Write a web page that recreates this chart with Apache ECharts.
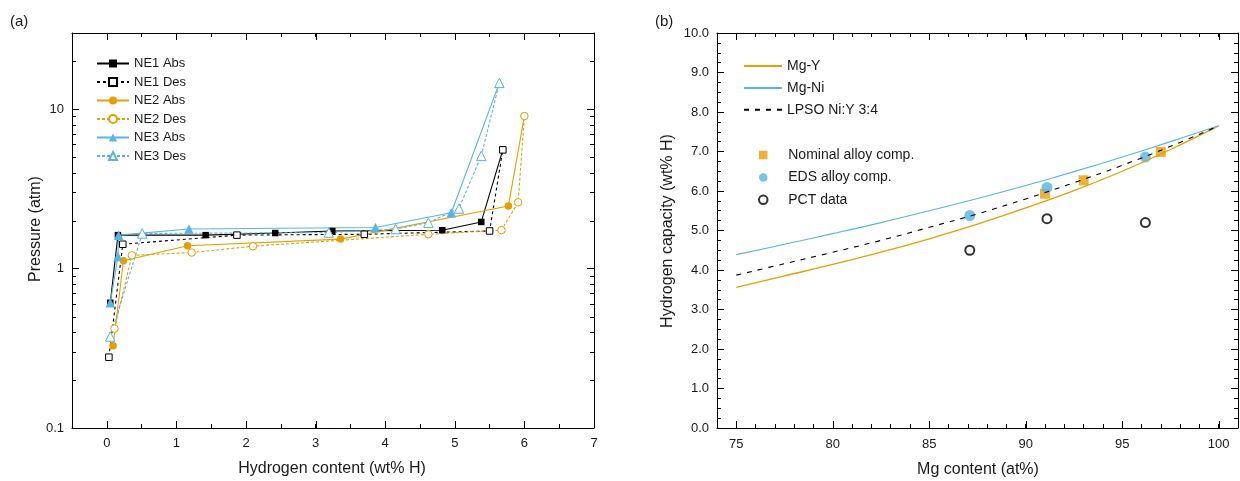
<!DOCTYPE html>
<html>
<head>
<meta charset="utf-8">
<script src="https://cdn.jsdelivr.net/npm/echarts@6/dist/echarts.min.js"></script>
<style>
  html, body { margin: 0; padding: 0; background: #fff; }
  #chart { width: 1240px; height: 481px; }
</style>
</head>
<body>
<div id="chart"></div>
<script>
// ---------- Panel (a): PCT isotherms, hydrogen content (wt% H) vs pressure (atm) ----------
const ne1AbsH = [0.05, 0.16, 1.42, 2.42, 3.24, 4.82, 5.38, 5.69];
const ne1AbsP = [0.61, 1.62, 1.62, 1.67, 1.72, 1.74, 1.96, 5.55];
const ne1DesH = [0.03, 0.23, 1.87, 3.70, 5.50, 5.69];
const ne1DesP = [0.278, 1.42, 1.62, 1.64, 1.72, 5.55];
const ne2AbsH = [0.09, 0.24, 1.16, 3.36, 5.77, 6.00];
const ne2AbsP = [0.328, 1.12, 1.39, 1.53, 2.47, 9.04];
const ne2DesH = [0.11, 0.36, 1.22, 2.10, 4.62, 5.67, 5.91, 6.00];
const ne2DesP = [0.42, 1.21, 1.26, 1.38, 1.64, 1.74, 2.60, 9.04];
const ne3AbsH = [0.05, 0.16, 0.17, 1.18, 3.86, 4.95, 5.64];
const ne3AbsP = [0.61, 1.19, 1.62, 1.77, 1.81, 2.24, 14.6];
const ne3DesH = [0.05, 0.51, 3.19, 4.15, 4.62, 5.06, 5.38, 5.64];
const ne3DesP = [0.375, 1.66, 1.68, 1.77, 1.94, 2.38, 5.09, 14.6];

// axis ticks of panel (a)
const hydrogenMajorTicks = [0, 1, 2, 3, 4, 5, 6, 7];
const pressureMinorTicks = [0.2, 0.3, 0.4, 0.5, 0.6, 0.7, 0.8, 0.9,
                            2, 3, 4, 5, 6, 7, 8, 9, 20];

// ---------- Panel (b): hydrogen capacity vs Mg content ----------
const mgContent = [75, 77.5, 80, 82.5, 85, 87.5, 90, 92.5, 95, 97.5, 100];
const capMgY    = [3.56, 3.85, 4.14, 4.45, 4.79, 5.16, 5.57, 6.01, 6.50, 7.05, 7.65];
const capMgNi   = [4.39, 4.65, 4.92, 5.20, 5.50, 5.81, 6.14, 6.49, 6.86, 7.25, 7.65];
const capLpso   = [3.87, 4.16, 4.45, 4.75, 5.08, 5.42, 5.80, 6.21, 6.65, 7.13, 7.65];

const nominalMg  = [91.0, 93.0, 97.0];
const nominalCap = [5.93, 6.27, 6.99];
const edsMg      = [87.1, 91.1, 96.2];
const edsCap     = [5.38, 6.09, 6.86];
const pctMg      = [87.1, 91.1, 96.2];
const pctCap     = [4.50, 5.30, 5.20];

const mgMajorTicks = [75, 80, 85, 90, 95, 100];

// ---------- styling ----------
const FONT = '"Liberation Sans", Arial, Helvetica, sans-serif';
const INK = '#1a1a1a';
const ORANGE = '#E69F00';
const BLUE = '#56B4E9';
const SQUARE = 'path://M0 0H10V10H0Z';

const pairs = (xs, ys) => xs.map((x, i) => [x, ys[i]]);

function frameAxis(extra) {
  return Object.assign({
    axisLine: { show: true, onZero: false, lineStyle: { color: '#000', width: 1 } },
    axisTick: { show: true, inside: true, length: 4, lineStyle: { color: '#000', width: 1 } },
    splitLine: { show: false },
    minorSplitLine: { show: false },
    axisLabel: { show: false }
  }, extra);
}

// Longer ticks drawn on both opposite edges of a grid
function edgeTicks(dir, xIdx, yIdx, values, fixed, len) {
  return {
    type: 'custom', xAxisIndex: xIdx, yAxisIndex: yIdx, silent: true, z: 10,
    animation: false, clip: false,
    data: values.map(v => dir === 'x' ? [v, fixed] : [fixed, v]),
    renderItem(params, api) {
      const cs = params.coordSys;
      const p = api.coord([api.value(0), api.value(1)]);
      const st = { stroke: '#000', lineWidth: 1 };
      if (dir === 'x') {
        const x = Math.round(p[0]) + 0.5;
        const yb = cs.y + cs.height, yt = cs.y;
        return { type: 'group', children: [
          { type: 'line', shape: { x1: x, y1: yb, x2: x, y2: yb - len }, style: st },
          { type: 'line', shape: { x1: x, y1: yt, x2: x, y2: yt + len }, style: st }
        ] };
      }
      const y = Math.round(p[1]) + 0.5;
      const xl = cs.x, xr = cs.x + cs.width;
      return { type: 'group', children: [
        { type: 'line', shape: { x1: xl, y1: y, x2: xl + len, y2: y }, style: st },
        { type: 'line', shape: { x1: xr, y1: y, x2: xr - len, y2: y }, style: st }
      ] };
    }
  };
}

function pctSeries(name, hs, ps, color, symbol, size, filled, dash) {
  return {
    name, type: 'line', xAxisIndex: 0, yAxisIndex: 0,
    data: pairs(hs, ps),
    symbol, symbolSize: size, showSymbol: true,
    lineStyle: { color, width: 1.1, type: dash || 'solid' },
    itemStyle: filled
      ? { color, borderColor: color, borderWidth: 0 }
      : { color: '#fff', borderColor: color, borderWidth: 1 },
    emphasis: { disabled: true },
    animation: false
  };
}

function capLine(name, ys, color, width, dash) {
  return {
    name, type: 'line', xAxisIndex: 2, yAxisIndex: 2,
    data: pairs(mgContent, ys), symbol: 'none', smooth: 0.4,
    lineStyle: { color, width, type: dash || 'solid' },
    itemStyle: { color },
    emphasis: { disabled: true }, animation: false
  };
}

function capScatter(name, xs, ys, symbol, size, style) {
  return {
    name, type: 'scatter', xAxisIndex: 2, yAxisIndex: 2,
    data: pairs(xs, ys), symbol, symbolSize: size,
    itemStyle: style, emphasis: { disabled: true }, animation: false
  };
}

const tickLabel = { show: true, color: INK, fontSize: 13, fontFamily: FONT };

const option = {
  backgroundColor: '#fff',
  animation: false,
  textStyle: { fontFamily: FONT },
  grid: [
    { left: 72, top: 33, width: 522, height: 395, outerBoundsMode: 'none', containLabel: false },
    { left: 717, top: 33, width: 521, height: 395, outerBoundsMode: 'none', containLabel: false }
  ],
  xAxis: [
    frameAxis({ gridIndex: 0, type: 'value', position: 'bottom', min: -0.5, max: 7, interval: 0.5,
      axisLabel: Object.assign({}, tickLabel, { margin: 9,
        formatter: v => (Math.abs(v - Math.round(v)) < 1e-6 && v >= 0) ? String(Math.round(v)) : '' }) }),
    frameAxis({ gridIndex: 0, type: 'value', position: 'top', min: -0.5, max: 7, interval: 0.5 }),
    frameAxis({ gridIndex: 1, type: 'value', position: 'bottom', min: 74, max: 101, interval: 1,
      axisLabel: Object.assign({}, tickLabel, { margin: 10,
        formatter: v => (v % 5 === 0) ? String(v) : '' }) }),
    frameAxis({ gridIndex: 1, type: 'value', position: 'top', min: 74, max: 101, interval: 1 })
  ],
  yAxis: [
    frameAxis({ gridIndex: 0, type: 'log', logBase: 10, position: 'left', min: 0.1, max: 30,
      axisTick: { show: true, inside: true, length: 7, lineStyle: { color: '#000', width: 1 } },
      axisLabel: Object.assign({}, tickLabel, { margin: 8, showMaxLabel: false,
        formatter: v => (v > 20 ? '' : String(v)) }) }),
    frameAxis({ gridIndex: 0, type: 'log', logBase: 10, position: 'right', min: 0.1, max: 30,
      axisTick: { show: true, inside: true, length: 7, lineStyle: { color: '#000', width: 1 } } }),
    frameAxis({ gridIndex: 1, type: 'value', position: 'left', min: 0, max: 10, interval: 1,
      axisTick: { show: true, inside: true, length: 7, lineStyle: { color: '#000', width: 1 } },
      minorTick: { show: true, splitNumber: 4, length: 4, lineStyle: { color: '#000', width: 1 } },
      axisLabel: Object.assign({}, tickLabel, { margin: 8, formatter: v => v.toFixed(1) }) }),
    frameAxis({ gridIndex: 1, type: 'value', position: 'right', min: 0, max: 10, interval: 1,
      axisTick: { show: true, inside: true, length: 7, lineStyle: { color: '#000', width: 1 } },
      minorTick: { show: true, splitNumber: 4, length: 4, lineStyle: { color: '#000', width: 1 } } })
  ],
  legend: [
    {
      data: ['NE1 Abs', 'NE1 Des', 'NE2 Abs', 'NE2 Des', 'NE3 Abs', 'NE3 Des'],
      orient: 'vertical', left: 96, top: 57, padding: 0,
      itemWidth: 32, itemHeight: 10, itemGap: 5.5,
      textStyle: { fontSize: 13, color: INK, fontFamily: FONT },
      selectedMode: false
    },
    {
      data: ['Mg-Y', 'Mg-Ni', 'LPSO Ni:Y 3:4'],
      orient: 'vertical', left: 743, top: 59, padding: 0,
      itemWidth: 38, itemHeight: 10, itemGap: 7.9,
      itemStyle: { opacity: 0 },
      textStyle: { fontSize: 14, color: INK, fontFamily: FONT },
      selectedMode: false
    },
    {
      data: [{ name: 'Nominal alloy comp.', icon: SQUARE }, 'EDS alloy comp.', 'PCT data'],
      orient: 'vertical', left: 758, top: 148, padding: 0,
      itemWidth: 40, itemHeight: 8.5, itemGap: 8.4,
      textStyle: { fontSize: 14, color: INK, fontFamily: FONT },
      selectedMode: false
    }
  ],
  graphic: [
    { type: 'text', x: 10, y: 22, style: { text: '(a)', font: '15px ' + FONT, fill: INK, verticalAlign: 'middle' } },
    { type: 'text', x: 655, y: 22, style: { text: '(b)', font: '15px ' + FONT, fill: INK, verticalAlign: 'middle' } },
    { type: 'text', x: 36, y: 229, rotation: Math.PI / 2,
      style: { text: 'Pressure (atm)', font: '16px ' + FONT, fill: INK, align: 'center', verticalAlign: 'middle' } },
    { type: 'text', x: 332, y: 469,
      style: { text: 'Hydrogen content (wt% H)', font: '16px ' + FONT, fill: INK, align: 'center', verticalAlign: 'middle' } },
    { type: 'text', x: 668, y: 231, rotation: Math.PI / 2,
      style: { text: 'Hydrogen capacity (wt% H)', font: '16px ' + FONT, fill: INK, align: 'center', verticalAlign: 'middle' } },
    { type: 'text', x: 978, y: 470,
      style: { text: 'Mg content (at%)', font: '16px ' + FONT, fill: INK, align: 'center', verticalAlign: 'middle' } }
  ],
  series: [
    pctSeries('NE1 Abs', ne1AbsH, ne1AbsP, '#000', 'rect', 6.5, true),
    pctSeries('NE1 Des', ne1DesH, ne1DesP, '#000', 'rect', 6.5, false, [3, 3]),
    pctSeries('NE2 Abs', ne2AbsH, ne2AbsP, ORANGE, 'circle', 7.5, true),
    pctSeries('NE2 Des', ne2DesH, ne2DesP, ORANGE, 'circle', 7.5, false, [3, 2]),
    pctSeries('NE3 Abs', ne3AbsH, ne3AbsP, BLUE, 'triangle', 9.5, true),
    pctSeries('NE3 Des', ne3DesH, ne3DesP, BLUE, 'triangle', 9.5, false, [3, 2]),

    edgeTicks('x', 0, 0, hydrogenMajorTicks, 0.1, 7),
    edgeTicks('y', 0, 0, pressureMinorTicks, -0.5, 4),

    capLine('Mg-Y', capMgY, ORANGE, 1.3),
    capLine('Mg-Ni', capMgNi, BLUE, 1.1),
    capLine('LPSO Ni:Y 3:4', capLpso, '#000', 1.1, [5, 6]),
    capScatter('Nominal alloy comp.', nominalMg, nominalCap, 'rect', 10, { color: ORANGE }),
    capScatter('EDS alloy comp.', edsMg, edsCap, 'circle', 11, { color: BLUE }),
    capScatter('PCT data', pctMg, pctCap, 'circle', 9, { color: '#fff', borderColor: '#000', borderWidth: 2 }),

    edgeTicks('x', 2, 2, mgMajorTicks, 0, 7)
  ]
};

const chart = echarts.init(document.getElementById('chart'), null, { renderer: 'canvas' });
chart.setOption(option);
</script>
</body>
</html>
